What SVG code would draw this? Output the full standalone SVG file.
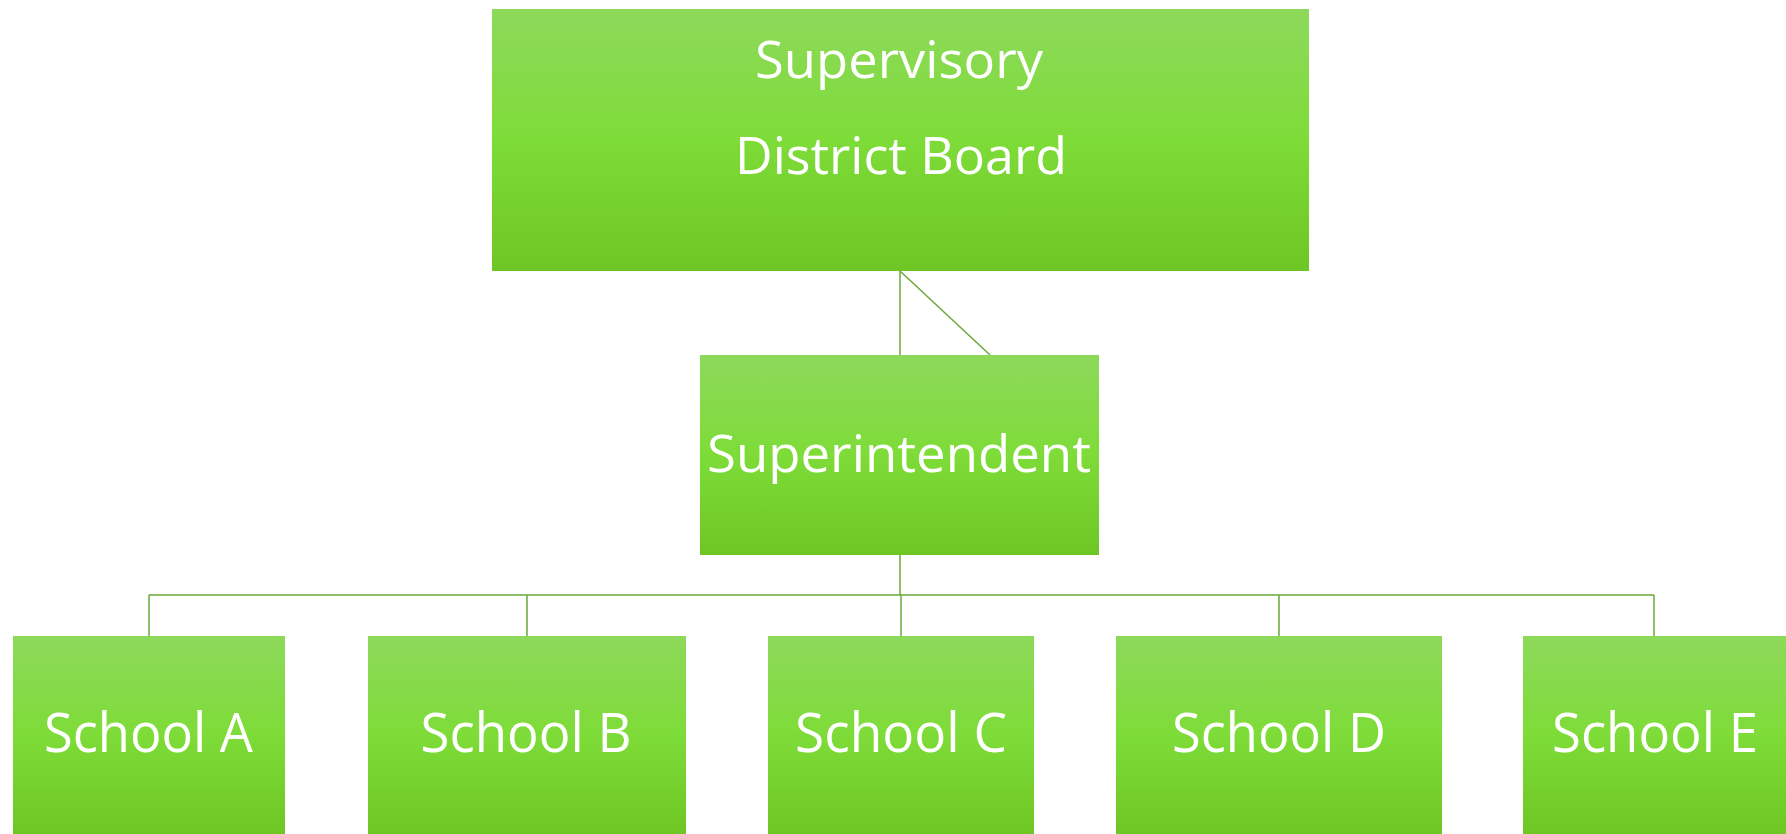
<svg xmlns="http://www.w3.org/2000/svg" width="1786" height="834" viewBox="0 0 1786 834">
  <style>
    .box { fill: url(#g); }
    .lbl { fill: #ffffff; font-family: "Open Sans", "Noto Sans", "Liberation Sans", sans-serif; font-size: 52px; text-anchor: middle; }
    .sch { font-size: 54px; }
    .conn { stroke: #6aa83a; stroke-width: 1.5; fill: none; }
  </style>
  <defs>
    <linearGradient id="g" x1="0" y1="0" x2="0" y2="1">
      <stop offset="0" stop-color="#8dd95b"/>
      <stop offset="0.5" stop-color="#7edc38"/>
      <stop offset="1" stop-color="#6dc623"/>
    </linearGradient>
  </defs>
  <rect width="1786" height="834" fill="#ffffff"/>
  <g id="connectors">
    <line class="conn" x1="900" y1="271" x2="900" y2="355"/>
    <line class="conn" x1="900" y1="271" x2="990" y2="355"/>
    <line class="conn" x1="900" y1="555" x2="900" y2="595"/>
    <line class="conn" x1="149" y1="595" x2="1654" y2="595"/>
    <line class="conn" x1="149" y1="595" x2="149" y2="636"/>
    <line class="conn" x1="527" y1="595" x2="527" y2="636"/>
    <line class="conn" x1="901" y1="595" x2="901" y2="636"/>
    <line class="conn" x1="1279" y1="595" x2="1279" y2="636"/>
    <line class="conn" x1="1654" y1="595" x2="1654" y2="636"/>
  </g>
  <g id="board">
    <rect class="box" x="492" y="9" width="817" height="262"/>
    <text class="lbl" x="899" y="78" textLength="288" lengthAdjust="spacingAndGlyphs">Supervisory</text>
    <text class="lbl" x="901" y="174" textLength="332" lengthAdjust="spacingAndGlyphs">District Board</text>
  </g>
  <g id="superintendent">
    <rect class="box" x="700" y="355" width="399" height="200"/>
    <text class="lbl" x="899" y="472" textLength="384" lengthAdjust="spacingAndGlyphs">Superintendent</text>
  </g>
  <g id="schoolA">
    <rect class="box" x="13" y="636" width="272" height="198"/>
    <text class="lbl sch" x="148.5" y="752" textLength="209" lengthAdjust="spacingAndGlyphs">School A</text>
  </g>
  <g id="schoolB">
    <rect class="box" x="368" y="636" width="318" height="198"/>
    <text class="lbl sch" x="526" y="752" textLength="211" lengthAdjust="spacingAndGlyphs">School B</text>
  </g>
  <g id="schoolC">
    <rect class="box" x="768" y="636" width="266" height="198"/>
    <text class="lbl sch" x="901" y="752" textLength="212" lengthAdjust="spacingAndGlyphs">School C</text>
  </g>
  <g id="schoolD">
    <rect class="box" x="1116" y="636" width="326" height="198"/>
    <text class="lbl sch" x="1279" y="752" textLength="214" lengthAdjust="spacingAndGlyphs">School D</text>
  </g>
  <g id="schoolE">
    <rect class="box" x="1523" y="636" width="263" height="198"/>
    <text class="lbl sch" x="1655" y="752" textLength="206" lengthAdjust="spacingAndGlyphs">School E</text>
  </g>
</svg>
